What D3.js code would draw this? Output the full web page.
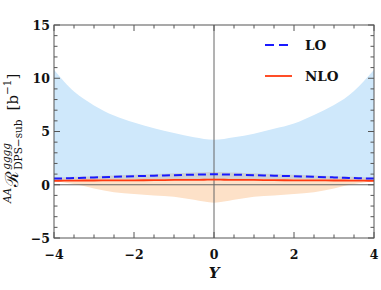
<!DOCTYPE html>
<html>
<head>
<meta charset="utf-8">
<script src="https://cdn.jsdelivr.net/npm/d3@7"></script>
<style>
  body { margin: 0; background: #fff; }
  text { font-family: "DejaVu Serif", serif; fill: #111; }
</style>
</head>
<body>
<svg id="chart" width="381" height="290"></svg>
<script>
// rapidity grid
var ys = [-4, -3.75, -3.5, -3.25, -3, -2.5, -2, -1.5, -1, -0.5, -0.25, 0, 0.25, 0.5, 1, 1.5, 2, 2.5, 3, 3.25, 3.5, 3.75, 4];

// LO scale band (light blue)
var loBandHi = [10.8, 9.7, 8.75, 8.05, 7.45, 6.5, 5.84, 5.3, 4.85, 4.45, 4.3, 4.22, 4.3, 4.45, 4.8, 5.25, 5.75, 6.55, 7.5, 8.05, 8.8, 9.75, 10.8];
var loBandLo = [0.45, 0.46, 0.48, 0.5, 0.52, 0.56, 0.6, 0.64, 0.68, 0.72, 0.74, 0.75, 0.74, 0.72, 0.68, 0.64, 0.6, 0.56, 0.52, 0.5, 0.48, 0.46, 0.45];
// NLO scale band (light orange)
var nloBandHi = [0.55, 0.56, 0.57, 0.58, 0.59, 0.6, 0.62, 0.63, 0.65, 0.66, 0.67, 0.68, 0.67, 0.66, 0.65, 0.63, 0.62, 0.6, 0.59, 0.58, 0.57, 0.56, 0.55];
var nloBandLo = [0.35, 0.22, 0.08, -0.12, -0.35, -0.7, -0.88, -1.0, -1.12, -1.42, -1.58, -1.68, -1.58, -1.42, -1.12, -1.0, -0.88, -0.7, -0.35, -0.12, 0.08, 0.22, 0.35];
// grey band around LO
var greyHi = [0.68, 0.71, 0.74, 0.77, 0.8, 0.87, 0.93, 1.0, 1.07, 1.15, 1.18, 1.2, 1.18, 1.15, 1.07, 1.0, 0.93, 0.87, 0.8, 0.77, 0.74, 0.71, 0.68];
var greyLo = [0.45, 0.46, 0.47, 0.48, 0.49, 0.5, 0.51, 0.52, 0.53, 0.54, 0.55, 0.55, 0.55, 0.54, 0.53, 0.52, 0.51, 0.5, 0.49, 0.48, 0.47, 0.46, 0.45];
// central curves
var lo = [0.58, 0.6, 0.63, 0.66, 0.69, 0.75, 0.8, 0.85, 0.9, 0.95, 0.97, 0.98, 0.97, 0.95, 0.9, 0.85, 0.8, 0.75, 0.69, 0.66, 0.63, 0.6, 0.58];
var nlo = [0.37, 0.38, 0.39, 0.4, 0.4, 0.41, 0.42, 0.43, 0.45, 0.46, 0.47, 0.48, 0.47, 0.46, 0.45, 0.43, 0.42, 0.41, 0.4, 0.4, 0.39, 0.38, 0.37];

var xTicks = [-4, -2, 0, 2, 4];
var yTicks = [-5, 0, 5, 10, 15];

var svg = d3.select('#chart');
var margin = {top: 25, right: 7, bottom: 52, left: 54};
var W = 381 - margin.left - margin.right,
    H = 290 - margin.top - margin.bottom;

var x = d3.scaleLinear().domain([-4, 4]).range([0, W]);
var y = d3.scaleLinear().domain([-5, 15]).range([H, 0]);

var g = svg.append('g').attr('transform', 'translate(' + margin.left + ',' + margin.top + ')');

function band(hi, lo_) {
    return d3.area()
        .curve(d3.curveMonotoneX)
        .x(function(d, i) { return x(ys[i]); })
        .y0(function(d, i) { return y(lo_[i]); })
        .y1(function(d, i) { return y(hi[i]); })(ys);
}
function line(vals) {
    return d3.line()
        .curve(d3.curveMonotoneX)
        .x(function(d, i) { return x(ys[i]); })
        .y(function(d, i) { return y(vals[i]); })(ys);
}

g.append('path').attr('d', band(loBandHi, loBandLo)).attr('fill', '#cfe8fb');
g.append('path').attr('d', band(nloBandHi, nloBandLo)).attr('fill', '#fde1c8');
g.append('path').attr('d', band(greyHi, greyLo)).attr('fill', '#c8c8c8').attr('opacity', 0.75);

// zero lines
g.append('line').attr('x1', 0).attr('x2', W).attr('y1', y(0)).attr('y2', y(0))
    .attr('stroke', '#666').attr('stroke-width', 1);
g.append('line').attr('x1', x(0)).attr('x2', x(0)).attr('y1', 0).attr('y2', H)
    .attr('stroke', '#666').attr('stroke-width', 1);

g.append('path').attr('d', line(nlo)).attr('fill', 'none')
    .attr('stroke', '#ff3a10').attr('stroke-width', 1.8);
g.append('path').attr('d', line(lo)).attr('fill', 'none')
    .attr('stroke', '#1a1aff').attr('stroke-width', 2).attr('stroke-dasharray', '8,4');

// frame + ticks
g.append('rect').attr('width', W).attr('height', H).attr('fill', 'none')
    .attr('stroke', '#555').attr('stroke-width', 1);

var xMinor = d3.range(-4, 4.01, 0.5);
var yMinor = d3.range(-5, 15.01, 1);
function isMajor(v, arr) { return arr.some(function(t) { return Math.abs(t - v) < 1e-6; }); }

xMinor.forEach(function(v) {
    var len = isMajor(v, xTicks) ? 6 : 3.5;
    g.append('line').attr('x1', x(v)).attr('x2', x(v)).attr('y1', H).attr('y2', H - len).attr('stroke', '#555');
    g.append('line').attr('x1', x(v)).attr('x2', x(v)).attr('y1', 0).attr('y2', len).attr('stroke', '#555');
});
yMinor.forEach(function(v) {
    var len = isMajor(v, yTicks) ? 6 : 3.5;
    g.append('line').attr('y1', y(v)).attr('y2', y(v)).attr('x1', 0).attr('x2', len).attr('stroke', '#555');
    g.append('line').attr('y1', y(v)).attr('y2', y(v)).attr('x1', W).attr('x2', W - len).attr('stroke', '#555');
});

g.selectAll('.xl').data(xTicks).enter().append('text')
    .attr('x', function(d) { return x(d); })
    .attr('y', H + 21)
    .attr('text-anchor', 'middle')
    .style('font-size', '12.5px').style('font-weight', 'bold')
    .text(function(d) { return d < 0 ? '\u2212' + (-d) : d; });

g.selectAll('.yl').data(yTicks).enter().append('text')
    .attr('x', -4)
    .attr('y', function(d) { return y(d); })
    .attr('dy', '0.38em')
    .attr('text-anchor', 'end')
    .style('font-size', '12.5px').style('font-weight', 'bold')
    .text(function(d) { return d < 0 ? '\u2212' + (-d) : d; });

// x title
g.append('text').attr('x', x(0)).attr('y', H + 40).attr('text-anchor', 'middle')
    .style('font-size', '15px').style('font-weight', 'bold').style('font-style', 'italic')
    .text('Y');

// y title, pieces laid out one after another in a rotated frame
var yt = svg.append('g').attr('transform', 'translate(18,203) rotate(-90)');
var cx = 0;
function piece(txt, dy, size, italic, bold, advance) {
    var t = yt.append('text').attr('x', cx).attr('y', dy)
        .style('font-size', size + 'px')
        .style('font-style', italic ? 'italic' : 'normal')
        .style('font-weight', bold ? 'bold' : 'normal')
        .text(txt);
    var w = t.node().getComputedTextLength();
    if (advance) cx += w;
    return w;
}
piece('AA', -7, 10.5, true, false, true);
cx += 1;
piece('\u211B', 0, 18, false, false, true);
cx += 1;
var w1 = piece('gggg', -8, 10.5, true, false, false);
var w2 = piece('DPS\u2212sub', 3.5, 10.5, false, false, false);
cx += Math.max(w1, w2) + 9;
piece('[b', 0, 15, false, false, true);
piece('\u22121', -7, 10.5, false, false, true);
piece(']', 0, 15, false, false, true);

// legend
var leg = g.append('g');
leg.append('line').attr('x1', 211).attr('x2', 238).attr('y1', 20).attr('y2', 20)
    .attr('stroke', '#1a1aff').attr('stroke-width', 2).attr('stroke-dasharray', '9,5');
leg.append('text').attr('x', 251).attr('y', 20).attr('dy', '0.36em')
    .style('font-size', '13.5px').style('font-weight', 'bold').text('LO');
leg.append('line').attr('x1', 211).attr('x2', 238).attr('y1', 51).attr('y2', 51)
    .attr('stroke', '#ff3a10').attr('stroke-width', 1.8);
leg.append('text').attr('x', 251).attr('y', 51).attr('dy', '0.36em')
    .style('font-size', '13.5px').style('font-weight', 'bold').text('NLO');
</script>
</body>
</html>
